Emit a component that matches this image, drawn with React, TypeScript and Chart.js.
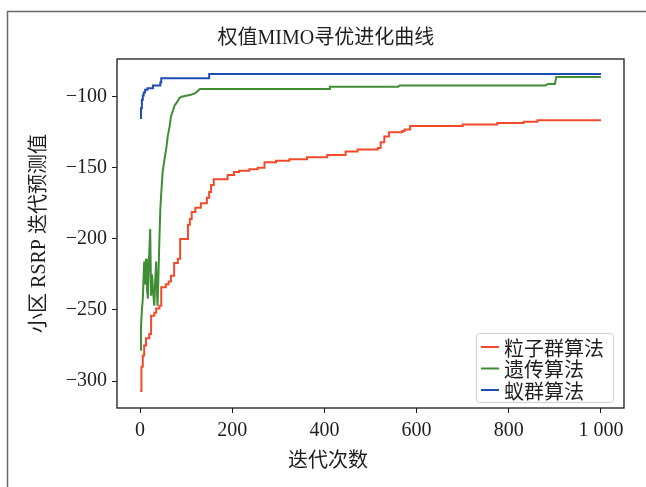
import React, { useEffect, useRef } from "react";
import { Chart, registerables } from "chart.js";

Chart.register(...registerables);

// ---- text ----
const chartTitle = "权值MIMO寻优进化曲线";
const xAxisTitle = "迭代次数";
const yAxisTitle = "小区 RSRP 迭代预测值";
const seriesNames = ["粒子群算法", "遗传算法", "蚁群算法"];
const seriesColors = ["#f24b2c", "#3f8d34", "#1f4db4"];

// ---- ticks ----
const xTicks = [0, 200, 400, 600, 800, 1000];
const yTicks = [-300, -250, -200, -150, -100];

// ---- 粒子群算法 (stepped, best-so-far) ----
const psoX = [0, 3, 6, 9, 13, 20, 24, 31, 35, 42, 46, 56, 62, 67, 74, 82, 87, 104, 108, 112, 120, 132, 145, 150, 154, 160, 190, 204, 215, 237, 255, 270, 295, 324, 362, 406, 446, 472, 516, 522, 530, 540, 569, 574, 586, 700, 775, 832, 862, 1000];
const psoY = [-307, -290, -282, -275, -270, -267, -254, -252, -249, -247, -234, -232, -230, -226, -217, -214, -200, -190, -186, -181, -178, -175, -171, -167, -162, -158, -155, -153, -152, -151, -150, -146, -145, -144, -142.5, -141, -138.5, -137, -136, -132, -128, -125, -124, -123, -120.5, -119.5, -118.5, -117.5, -116.5, -116.5];

// ---- 遗传算法 ----
const gaX = [0, 2, 4, 6, 9, 11, 13, 15, 17, 20, 22, 24, 26, 29, 31, 33, 35, 37, 38, 40, 42, 44, 46, 49, 53, 57, 60, 64, 67, 71, 75, 80, 85, 90, 100, 110, 120, 130, 410, 412, 560, 563, 880, 885, 900, 903, 1000];
const gaY = [-278, -262, -250, -242, -216, -232, -214, -235, -242, -210, -193, -240, -225, -240, -247, -228, -216, -240, -247, -225, -200, -179, -168, -153, -144, -136, -128, -121, -114, -110, -106, -104, -101, -100, -99.3, -98.6, -97.4, -94.5, -94.5, -93, -93, -92, -92, -91, -91, -86, -86];

// ---- 蚁群算法 (stepped) ----
const acoX = [0, 2, 4, 6, 8, 11, 16, 28, 44, 46, 148, 150, 1000];
const acoY = [-115, -108, -102, -99, -97, -95, -94, -92, -90, -87, -87, -84, -84];

const toPoints = (xs: number[], ys: number[]) => xs.map((x, i) => ({ x, y: ys[i] }));

const SERIF = '"Liberation Serif", "Noto Sans CJK SC", serif';
const CJK = '"Noto Sans CJK SC", "Liberation Serif", sans-serif';
const TEXT = "#1e1e1e";

const fmtNum = (v: number) => {
  const s = Math.abs(v) >= 1000 ? String(Math.abs(v)).replace(/(\d)(\d{3})$/, "$1 $2") : String(Math.abs(v));
  return (v < 0 ? "\u2212" : "") + s;
};

const decorPlugin = {
  id: "decor",
  beforeDraw(chart: any) {
    const ctx = chart.ctx;
    ctx.save();
    ctx.fillStyle = "#ffffff";
    ctx.fillRect(0, 0, chart.width, chart.height);
    // outer figure frame (top + left)
    ctx.strokeStyle = "#6a6a6a";
    ctx.lineWidth = 1.5;
    ctx.beginPath();
    ctx.moveTo(7.5, chart.height);
    ctx.lineTo(7.5, 11.5);
    ctx.lineTo(chart.width, 11.5);
    ctx.stroke();
    ctx.restore();
  },
  afterDraw(chart: any) {
    const ctx = chart.ctx;
    const a = chart.chartArea;
    ctx.save();
    // axes box
    ctx.strokeStyle = "#1a1a1a";
    ctx.lineWidth = 1.3;
    ctx.strokeRect(a.left, a.top, a.right - a.left, a.bottom - a.top);

    // title and x-axis title
    const w = a.right - a.left;
    ctx.fillStyle = TEXT;
    ctx.textAlign = "center";
    ctx.textBaseline = "middle";
    ctx.font = "20px " + SERIF;
    ctx.fillText(chartTitle, a.left + w * 0.412, a.top - 20);
    ctx.fillText(xAxisTitle, a.left + w * 0.416, a.bottom + 54);

    // legend (lower right)
    const bw = 137, bh = 69;
    const bx = a.right - 11 - bw, by = a.bottom - 6 - bh;
    ctx.beginPath();
    if (ctx.roundRect) ctx.roundRect(bx + 0.5, by + 0.5, bw, bh, 3);
    else ctx.rect(bx + 0.5, by + 0.5, bw, bh);
    ctx.fillStyle = "rgba(255,255,255,0.85)";
    ctx.fill();
    ctx.strokeStyle = "#d2d2d2";
    ctx.lineWidth = 1;
    ctx.stroke();
    ctx.font = "20px " + CJK;
    ctx.textAlign = "left";
    chart.data.datasets.forEach((ds: any, i: number) => {
      const y = by + 14 + i * 21.5;
      ctx.strokeStyle = ds.borderColor;
      ctx.lineWidth = 2;
      ctx.beginPath();
      ctx.moveTo(bx + 5, y);
      ctx.lineTo(bx + 23, y);
      ctx.stroke();
      ctx.fillStyle = TEXT;
      ctx.fillText(ds.label, bx + 28, y + 1);
    });
    ctx.restore();
  },
};

export default function App() {
  const ref = useRef<HTMLCanvasElement | null>(null);

  useEffect(() => {
    if (!ref.current) return;
    const chart = new Chart(ref.current, {
      type: "line",
      data: {
        datasets: [
          { label: seriesNames[0], data: toPoints(psoX, psoY), borderColor: seriesColors[0], stepped: true },
          { label: seriesNames[1], data: toPoints(gaX, gaY), borderColor: seriesColors[1] },
          { label: seriesNames[2], data: toPoints(acoX, acoY), borderColor: seriesColors[2], stepped: true },
        ],
      },
      options: {
        responsive: false,
        animation: false,
        devicePixelRatio: 1,
        layout: { padding: { top: 59, right: 22, left: 0, bottom: 0 } },
        elements: {
          point: { radius: 0 },
          line: { borderWidth: 2, tension: 0, fill: false },
        },
        plugins: {
          legend: { display: false },
          title: { display: false },
          tooltip: { enabled: false },
        },
        scales: {
          x: {
            type: "linear",
            min: -50,
            max: 1050,
            afterBuildTicks: (s: any) => {
              s.ticks = xTicks.map((v) => ({ value: v }));
            },
            afterFit: (s: any) => {
              s.height = 79;
            },
            ticks: {
              autoSkip: false,
              maxRotation: 0,
              padding: 6,
              color: TEXT,
              font: { family: SERIF, size: 20 },
              callback: (v: any) => fmtNum(Number(v)),
            },
            grid: { drawOnChartArea: false, drawTicks: true, tickLength: 5, tickColor: "#1a1a1a", tickWidth: 1 },
            border: { display: false },
          },
          y: {
            type: "linear",
            min: -319,
            max: -73.4,
            afterBuildTicks: (s: any) => {
              s.ticks = yTicks.map((v) => ({ value: v }));
            },
            afterFit: (s: any) => {
              s.width = 117;
            },
            ticks: {
              autoSkip: false,
              padding: 5,
              color: TEXT,
              font: { family: SERIF, size: 20 },
              callback: (v: any) => fmtNum(Number(v)),
            },
            grid: { drawOnChartArea: false, drawTicks: true, tickLength: 5, tickColor: "#1a1a1a", tickWidth: 1 },
            border: { display: false },
            title: {
              display: true,
              text: yAxisTitle,
              color: TEXT,
              font: { family: SERIF, size: 20 },
              padding: { top: 28, bottom: 0 },
            },
          },
        },
      },
      plugins: [decorPlugin],
    });
    return () => chart.destroy();
  }, []);

  return (
    <div style={{ position: "fixed", left: 0, top: 0, width: 646, height: 487, background: "#fff" }}>
      <canvas ref={ref} width={646} height={487} style={{ display: "block", width: 646, height: 487 }} />
    </div>
  );
}
